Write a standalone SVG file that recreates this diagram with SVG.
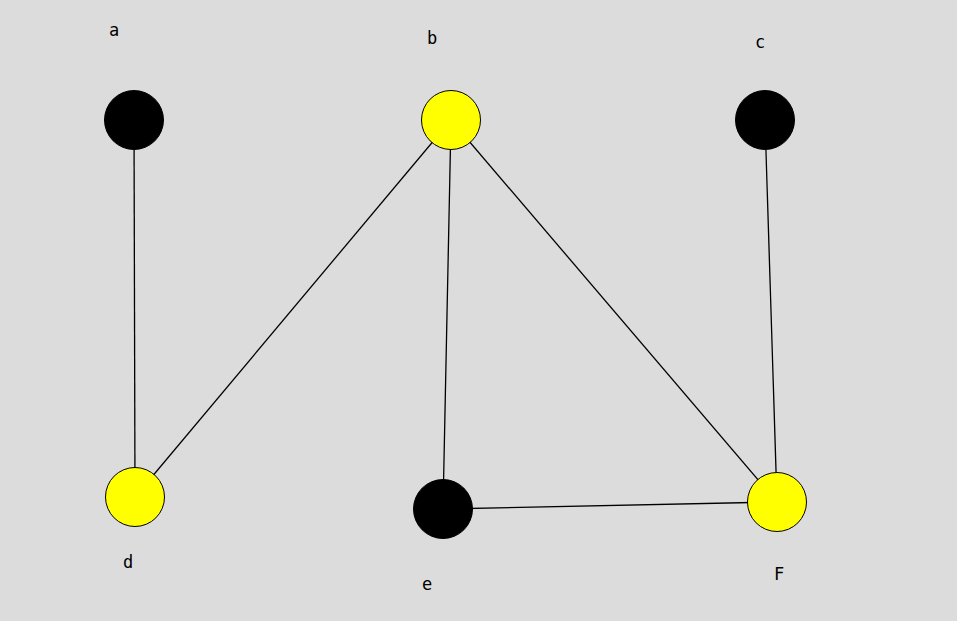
<svg xmlns="http://www.w3.org/2000/svg" width="957" height="621" viewBox="0 0 957 621">
<style>
.n{stroke:#000;stroke-width:1}
.y{fill:#ffff00}
.k{fill:#000}
text{font-family:"DejaVu Sans Mono","Liberation Mono",monospace;font-size:17px;fill:#000;text-anchor:middle}
#edges line{stroke:#000;stroke-width:1.3}
</style>
<rect width="957" height="621" fill="#dcdcdc"/>
<g id="edges">
<line x1="134" y1="120" x2="135" y2="497"/>
<line x1="451" y1="120" x2="135" y2="497"/>
<line x1="451" y1="120" x2="443" y2="509"/>
<line x1="451" y1="120" x2="777" y2="502"/>
<line x1="765" y1="120" x2="777" y2="502"/>
<line x1="443" y1="509" x2="777" y2="502"/>
</g>
<g id="a"><circle class="n k" cx="134" cy="120" r="29.5"/><text x="114" y="36">a</text></g>
<g id="b"><circle class="n y" cx="451" cy="120" r="29.5"/><text x="432" y="44">b</text></g>
<g id="c"><circle class="n k" cx="765" cy="120" r="29.5"/><text x="760" y="48">c</text></g>
<g id="d"><circle class="n y" cx="135" cy="497" r="29.5"/><text x="128" y="568">d</text></g>
<g id="e"><circle class="n k" cx="443" cy="509" r="29.5"/><text x="427" y="590">e</text></g>
<g id="F"><circle class="n y" cx="777" cy="502" r="29.5"/><text x="779" y="580">F</text></g>
</svg>
